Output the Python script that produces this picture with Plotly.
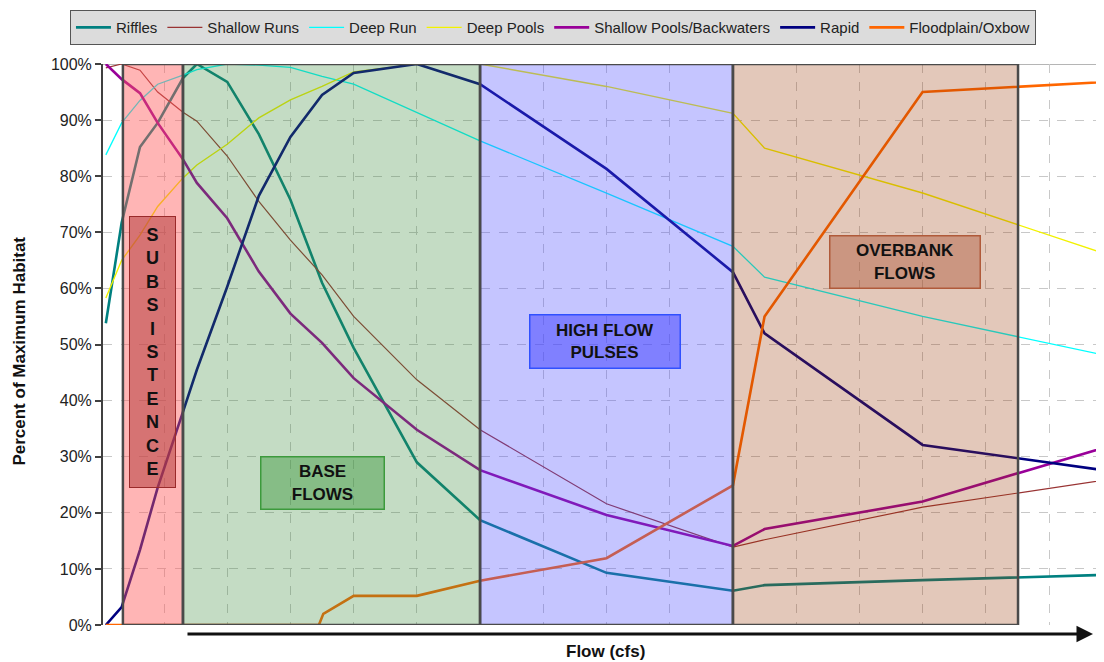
import plotly.graph_objects as go

# ---------------- data ----------------
FLOW = [0.08, 0.33, 0.62, 0.9, 1.3, 1.52, 2, 2.5, 3, 3.5, 4, 5, 6, 8, 10, 10.5, 13, 17]
RIFFLES = [53.8, 71.7, 85.2, 89.5, 97.5, 100, 96.8, 87.5, 75.8, 61, 49.4, 29, 18.7, 9.3, 6.1, 7.1, 8.0, 9.3]
SHALLOW_RUNS = [99.3, 100, 98.9, 95, 91.4, 89.8, 83.6, 75.5, 68.6, 62.4, 55, 43.7, 34.8, 21.6, 13.9, 15.2, 21, 27.7]
DEEP_RUN = [83.8, 89.5, 93.5, 96.4, 98, 99, 100, 99.8, 99.4, 97.8, 96.4, 91.3, 86.3, 77, 67.5, 62, 55, 45.4]
DEEP_POOLS = [58.3, 65, 69.5, 74.6, 79.7, 82, 85.7, 90.4, 93.6, 96, 98.6, 100, 100, 96, 91.2, 85, 77, 62]
SHALLOW_POOLS = [100, 97.3, 94.8, 89.5, 83, 78.8, 72.5, 63, 55.5, 50.3, 44, 34.8, 27.6, 19.6, 14.1, 17.1, 22, 35.4]
RAPID = [0, 3.2, 13.4, 24.5, 38, 45.5, 60.3, 76.5, 87, 94.5, 98.4, 100, 96.4, 81.3, 62.9, 52, 32.1, 25.8]
FLOOD_FLOW = [0.08, 3.45, 3.52, 4, 5, 6, 8, 10, 10.5, 13, 17]
FLOODPLAIN = [0, 0, 2, 5.2, 5.2, 7.9, 11.9, 24.9, 55, 95, 97.5]

SERIES_NAMES = ["Riffles", "Shallow Runs", "Deep Run", "Deep Pools",
                "Shallow Pools/Backwaters", "Rapid", "Floodplain/Oxbow"]
SERIES_X = [FLOW, FLOW, FLOW, FLOW, FLOW, FLOW, FLOOD_FLOW]
SERIES_Y = [RIFFLES, SHALLOW_RUNS, DEEP_RUN, DEEP_POOLS, SHALLOW_POOLS, RAPID, FLOODPLAIN]

REGION_NAMES = ["SUBSISTENCE", "BASE FLOWS", "HIGH FLOW PULSES", "OVERBANK FLOWS"]
REGION_START = [0.35, 1.30, 6.0, 10.0]
REGION_END = [1.30, 6.0, 10.0, 14.51]

Y_TICKS = [0, 10, 20, 30, 40, 50, 60, 70, 80, 90, 100]
Y_TICK_TEXT = [f"{v}%" for v in Y_TICKS]

# ---------------- styles ----------------
LINE_COLORS = ["#008080", "#993333", "#00FFFF", "#F2F200", "#990099", "#000080", "#FF6600"]
LINE_WIDTHS = [2.6, 1.2, 1.3, 1.4, 2.6, 2.6, 2.6]
REGION_FILLS = ["rgba(255,90,90,0.45)", "rgba(60,140,60,0.30)",
                "rgba(80,80,255,0.33)", "rgba(153,51,0,0.27)"]

FONT = "Arial, 'Liberation Sans', sans-serif"

fig = go.Figure()
for name, xs, ys, c, w in zip(SERIES_NAMES, SERIES_X, SERIES_Y, LINE_COLORS, LINE_WIDTHS):
    fig.add_trace(go.Scatter(x=xs, y=ys, mode="lines", name=name,
                             line=dict(color=c, width=w)))

shapes = []
# top border of plot
shapes.append(dict(type="line", xref="paper", yref="y", x0=0, x1=1, y0=100, y1=100,
                   line=dict(color="#B5B5B5", width=2), layer="below"))
for x0, x1, fc in zip(REGION_START, REGION_END, REGION_FILLS):
    shapes.append(dict(type="rect", xref="x", yref="y", x0=x0, x1=x1, y0=0, y1=100,
                       fillcolor=fc, line=dict(color="#4a4a4a", width=2.5), layer="above"))

annotations = []
# region labels
annotations.append(dict(
    x=(REGION_START[0] + REGION_END[0]) / 2 - 0.01, y=48.7, xref="x", yref="y",
    text="<b>" + "<br>".join(list(REGION_NAMES[0])) + "</b>", showarrow=False,
    font=dict(family=FONT, size=18, color="#111"), width=43, height=268,
    bgcolor="rgba(180,60,60,0.55)", bordercolor="#9a2a2a", borderwidth=1, borderpad=1,
    xanchor="center", yanchor="middle"))
annotations.append(dict(
    x=3.51, y=25.3, xref="x", yref="y", text="<b>BASE<br>FLOWS</b>", showarrow=False,
    font=dict(family=FONT, size=17, color="#111"), width=120, height=49,
    bgcolor="rgba(60,150,60,0.45)", bordercolor="#3c9a3c", borderwidth=1.5, borderpad=1,
    xanchor="center", yanchor="middle"))
annotations.append(dict(
    x=7.97, y=50.5, xref="x", yref="y", text="<b>HIGH FLOW<br>PULSES</b>", showarrow=False,
    font=dict(family=FONT, size=17, color="#111"), width=147, height=50,
    bgcolor="rgba(60,60,255,0.5)", bordercolor="#3050ff", borderwidth=1.5, borderpad=1,
    xanchor="center", yanchor="middle"))
annotations.append(dict(
    x=12.72, y=64.7, xref="x", yref="y", text="<b>OVERBANK<br>FLOWS</b>", showarrow=False,
    font=dict(family=FONT, size=17, color="#111"), width=147, height=49,
    bgcolor="rgba(170,80,50,0.42)", bordercolor="#b05a3a", borderwidth=1.5, borderpad=1,
    xanchor="center", yanchor="middle"))
# flow arrow
annotations.append(dict(
    x=0.989, y=-0.016, xref="paper", yref="paper", ax=-907, ay=0, text="",
    showarrow=True, arrowhead=2, arrowsize=1.1, arrowwidth=3, arrowcolor="#111"))
annotations.append(dict(
    x=0.5015, y=-0.047, xref="paper", yref="paper", text="<b>Flow (cfs)</b>",
    showarrow=False, font=dict(family=FONT, size=17, color="#111"),
    xanchor="center", yanchor="middle"))
annotations.append(dict(
    x=-0.083, y=0.489, xref="paper", yref="paper", text="<b>Percent of Maximum Habitat</b>",
    showarrow=False, textangle=-90, font=dict(family=FONT, size=17, color="#111"),
    xanchor="center", yanchor="middle"))

# the page body adds an 8px margin, so the figure is sized to the visible area
fig.update_layout(
    width=1096, height=654,
    margin=dict(l=95, r=0, t=56, b=37, autoexpand=False),
    paper_bgcolor="white", plot_bgcolor="white",
    font=dict(family=FONT, color="#222"),
    shapes=shapes, annotations=annotations,
    showlegend=True,
    legend=dict(orientation="h", x=-0.033, xanchor="left", y=1.096, yanchor="top",
                bgcolor="#DCDCDC", bordercolor="#555", borderwidth=1,
                font=dict(family=FONT, size=15, color="#222"),
                itemwidth=35, tracegroupgap=0),
    xaxis=dict(range=[0.035, 15.87], showticklabels=False, ticks="", showline=False,
               zeroline=False, showgrid=True, dtick=1, tick0=0,
               gridcolor="#C8C8C8", griddash="dash", gridwidth=1),
    yaxis=dict(range=[0, 100], tickvals=Y_TICKS, ticktext=Y_TICK_TEXT,
               showline=True, linecolor="#404040", linewidth=2,
               ticks="outside", ticklen=6, tickcolor="#404040", tickwidth=1.5,
               tickfont=dict(family=FONT, size=16, color="#222"),
               zeroline=False, showgrid=True, gridcolor="#C8C8C8", griddash="dash",
               gridwidth=1),
)

fig.write_html("out.html")
